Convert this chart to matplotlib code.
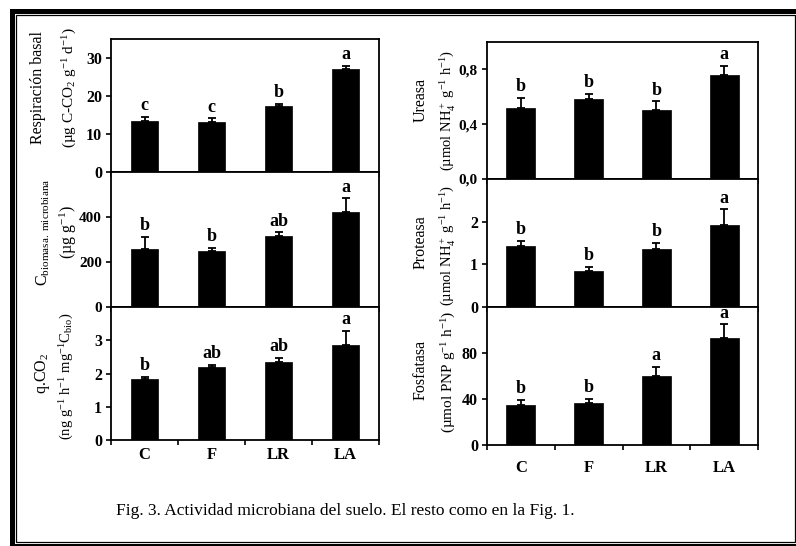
import matplotlib
matplotlib.use("Agg")
import matplotlib.pyplot as plt
from matplotlib.patches import Rectangle

plt.rcParams['font.family'] = ['Liberation Serif', 'DejaVu Serif']
plt.rcParams['mathtext.fontset'] = 'custom'
plt.rcParams['mathtext.rm'] = 'Liberation Serif'
plt.rcParams['mathtext.it'] = 'Liberation Serif:italic'
plt.rcParams['mathtext.bf'] = 'Liberation Serif:bold'

categories = ["C", "F", "LR", "LA"]

resp = [13.3, 13.1, 17.5, 27.2]
resp_err = [1.2, 1.0, 0.5, 0.7]
resp_let = ["c", "c", "b", "a"]

cbio = [256, 250, 314, 421]
cbio_err = [56, 11, 18, 62]
cbio_let = ["b", "b", "ab", "a"]

qco2 = [1.84, 2.20, 2.35, 2.85]
qco2_err = [0.05, 0.07, 0.13, 0.43]
qco2_let = ["b", "ab", "ab", "a"]

ureasa = [0.518, 0.585, 0.50, 0.758]
ureasa_err = [0.072, 0.035, 0.067, 0.067]
ureasa_let = ["b", "b", "b", "a"]

proteasa = [1.44, 0.84, 1.35, 1.92]
proteasa_err = [0.11, 0.10, 0.16, 0.37]
proteasa_let = ["b", "b", "b", "a"]

fosfatasa = [34.6, 36.1, 60.3, 92.9]
fosfatasa_err = [4.9, 4.3, 7.5, 11.9]
fosfatasa_let = ["b", "b", "a", "a"]

caption = "Fig. 3. Actividad microbiana del suelo. El resto como en la Fig. 1."

W, H = 796, 546
fig = plt.figure(figsize=(W / 100, H / 100), dpi=100)


def ax_px(x0, x1, yt, yb):
    return fig.add_axes([x0 / W, 1 - yb / H, (x1 - x0) / W, (yb - yt) / H])


def panel(ax, vals, errs, lets, ylim, yticks, yticklabels, width, tsize=11.5):
    x = range(len(vals))
    ax.bar(x, vals, width=width, color='black', edgecolor='black', linewidth=0.5, zorder=2)
    ax.errorbar(x, vals, yerr=[[0] * len(vals), errs], fmt='none', ecolor='black',
                elinewidth=1.3, capsize=3.2, capthick=1.3, zorder=3)
    for i, (v, e, l) in enumerate(zip(vals, errs, lets)):
        ax.annotate(l, (i, v + e), xytext=(0, 2), textcoords='offset points',
                    ha='center', va='bottom', fontsize=13, fontweight='bold')
    ax.set_xlim(-0.5, len(vals) - 0.5)
    ax.set_ylim(*ylim)
    ax.set_yticks(yticks)
    ax.set_yticklabels(yticklabels, fontweight='bold', fontsize=tsize)
    ax.set_xticks([i - 0.5 for i in range(len(vals) + 1)])
    ax.set_xticklabels([])
    ax.tick_params(axis='both', direction='out', length=3.5, width=1.2, pad=3)
    for s in ax.spines.values():
        s.set_linewidth(1.3)


# left column
lx0, lx1 = 111, 379
ax1 = ax_px(lx0, lx1, 39, 172)
panel(ax1, resp, resp_err, resp_let, (0, 35), [0, 10, 20, 30], ["0", "10", "20", "30"], 0.41)
ax2 = ax_px(lx0, lx1, 172, 307)
panel(ax2, cbio, cbio_err, cbio_let, (0, 600), [0, 200, 400], ["0", "200", "400"], 0.41, 11)
ax3 = ax_px(lx0, lx1, 307, 440)
panel(ax3, qco2, qco2_err, qco2_let, (0, 4), [0, 1, 2, 3], ["0", "1", "2", "3"], 0.41)
ax3.set_xticks(range(4), minor=True)
ax3.set_xticklabels(categories, minor=True, fontweight='bold', fontsize=12)
ax3.tick_params(axis='x', which='minor', length=0, pad=5)

# right column
rx0, rx1 = 487, 758
ax4 = ax_px(rx0, rx1, 42, 179)
panel(ax4, ureasa, ureasa_err, ureasa_let, (0, 1.0), [0, 0.4, 0.8], ["0,0", "0,4", "0,8"], 0.43, 11)
ax5 = ax_px(rx0, rx1, 179, 307)
panel(ax5, proteasa, proteasa_err, proteasa_let, (0, 3), [0, 1, 2], ["0", "1", "2"], 0.43)
ax6 = ax_px(rx0, rx1, 307, 445)
panel(ax6, fosfatasa, fosfatasa_err, fosfatasa_let, (0, 120), [0, 40, 80], ["0", "40", "80"], 0.43)
ax6.set_xticks(range(4), minor=True)
ax6.set_xticklabels(categories, minor=True, fontweight='bold', fontsize=12)
ax6.tick_params(axis='x', which='minor', length=0, pad=11)


def vlabel(x, y, s, size=11.5):
    fig.text(x / W, 1 - y / H, s, rotation=90, ha='center', va='center', fontsize=size)


vlabel(38, 88, "Respiración basal")
vlabel(70, 88, "(µg C-CO$_2$ g$^{-1}$ d$^{-1}$)", 11)
vlabel(43, 232, "C$_{\\mathrm{biomasa.\\ microbiana}}$")
vlabel(68, 232, "(µg g$^{-1}$)")
vlabel(43, 373, "q.CO$_2$")
vlabel(67, 376, "(ng g$^{-1}$ h$^{-1}$ mg$^{-1}$C$_{\\mathrm{bio}}$)", 10.5)

vlabel(421, 100, "Ureasa")
vlabel(448, 111, "(µmol NH$_4^+$ g$^{-1}$ h$^{-1}$)", 10.5)
vlabel(421, 242, "Proteasa")
vlabel(448, 246, "(µmol NH$_4^+$ g$^{-1}$ h$^{-1}$)", 10.5)
vlabel(421, 370, "Fosfatasa")
vlabel(449, 372, "(µmol PNP g$^{-1}$ h$^{-1}$)", 11)

fig.text(116 / W, 1 - 515 / H, caption, ha='left', va='baseline', fontsize=12.5)

# frame
outer = Rectangle((11.5 / W, 1 - 545.5 / H), (799 - 11.5) / W, (545.5 - 10.8) / H,
                  transform=fig.transFigure, fill=False, edgecolor='black', linewidth=3.6)
inner = Rectangle((15.5 / W, 1 - 541.7 / H), (794.5 - 15.5) / W, (541.7 - 14.7) / H,
                  transform=fig.transFigure, fill=False, edgecolor='black', linewidth=0.9)
fig.add_artist(outer)
fig.add_artist(inner)

fig.savefig("out.png", dpi=100)
